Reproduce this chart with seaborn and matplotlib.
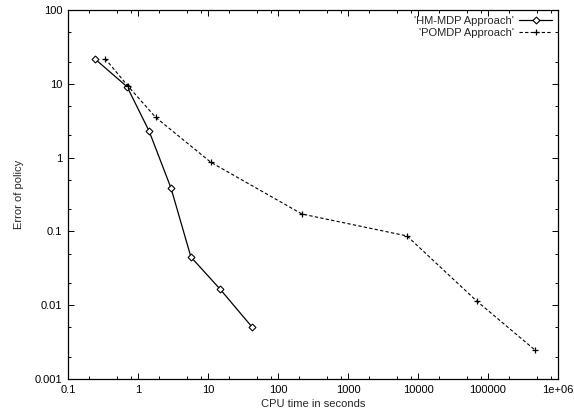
import math
import matplotlib
matplotlib.use("Agg")
import matplotlib.pyplot as plt
from matplotlib.ticker import LogLocator, FuncFormatter, NullFormatter
import seaborn as sns
import pandas as pd

# values (log-log)
hm_time = [0.243, 0.70, 1.44, 2.96, 5.7, 14.8, 42.5]
hm_err = [21.7, 9.1, 2.29, 0.387, 0.045, 0.0166, 0.00507]

pomdp_time = [0.338, 0.72, 1.79, 11.0, 220, 6970, 68900, 469000]
pomdp_err = [22.0, 9.3, 3.51, 0.863, 0.172, 0.0867, 0.0114, 0.00247]

x_labels = ["0.1", "1", "10", "100", "1000", "10000", "100000", "1e+06"]
y_labels = ["0.001", "0.01", "0.1", "1", "10", "100"]

sns.set_style("ticks")
plt.rcParams['font.family'] = ['Liberation Sans', 'DejaVu Sans']

hm = pd.DataFrame({"t": hm_time, "e": hm_err})
po = pd.DataFrame({"t": pomdp_time, "e": pomdp_err})

fig = plt.figure(figsize=(5.74, 4.12), dpi=100)
ax = fig.add_axes([68 / 574, 1 - 379 / 412, (558 - 68) / 574, (379 - 10) / 412])

sns.lineplot(data=hm, x="t", y="e", ax=ax, color="black", lw=0.9,
             marker="D", markersize=3.5, markerfacecolor="white",
             markeredgecolor="black", markeredgewidth=0.8,
             label="'HM-MDP Approach'")
sns.lineplot(data=po, x="t", y="e", ax=ax, color="black", lw=0.8,
             linestyle=(0, (3, 2)), marker="+", markersize=5,
             markeredgecolor="black", markeredgewidth=0.9,
             label="'POMDP Approach'")

ax.set_xscale("log")
ax.set_yscale("log")
ax.set_xlim(0.1, 1e6)
ax.set_ylim(0.001, 100)


def x_fmt(v, p):
    if 0.1 <= v <= 1e6:
        return x_labels[round(math.log10(v)) + 1]
    return ""


def y_fmt(v, p):
    if 0.001 <= v <= 100:
        return y_labels[round(math.log10(v)) + 3]
    return ""


ax.xaxis.set_major_locator(LogLocator(base=10, numticks=20))
ax.yaxis.set_major_locator(LogLocator(base=10, numticks=20))
ax.xaxis.set_minor_locator(LogLocator(base=10, subs=[2, 5, 8], numticks=20))
ax.yaxis.set_minor_locator(LogLocator(base=10, subs=[2, 5], numticks=20))
ax.xaxis.set_minor_formatter(NullFormatter())
ax.yaxis.set_minor_formatter(NullFormatter())
ax.xaxis.set_major_formatter(FuncFormatter(x_fmt))
ax.yaxis.set_major_formatter(FuncFormatter(y_fmt))

ax.tick_params(which="both", direction="in", top=True, right=True,
               labelsize=8, colors="black", width=0.7, pad=4)
ax.tick_params(which="major", length=4)
ax.tick_params(which="minor", length=2)
for s in ax.spines.values():
    s.set_linewidth(0.9)
    s.set_color("black")

ax.set_xlabel("CPU time in seconds", fontsize=8, labelpad=3)
ax.set_ylabel("Error of policy", fontsize=8, labelpad=8)

ax.legend(loc="upper right", frameon=False, markerfirst=False, fontsize=8,
          handlelength=3, handletextpad=0.5, labelspacing=0.2,
          borderaxespad=0.1)

fig.savefig("out.png", dpi=100)
